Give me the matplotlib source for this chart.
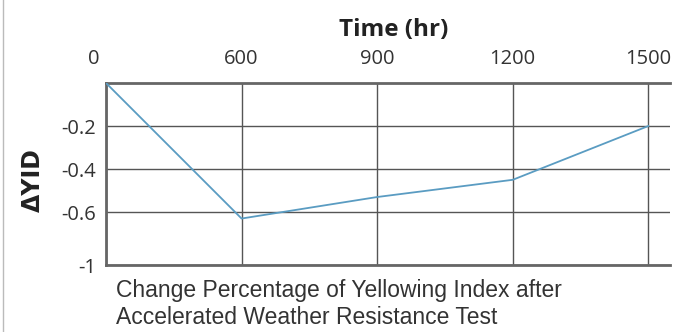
import matplotlib.pyplot as plt
from matplotlib.transforms import ScaledTranslation

# Data
time_labels = ['0', '600', '900', '1200', '1500']
delta_yid = [0.0, -0.63, -0.53, -0.45, -0.2]
ytick_values = [-0.2, -0.4, -0.6, -0.846]
ytick_labels = ['-0.2', '-0.4', '-0.6', '-1']

positions = list(range(len(time_labels)))

fig = plt.figure(figsize=(6.9, 3.32), dpi=100)
ax = fig.add_axes([106 / 690, 1 - 265 / 332, 564 / 690, 182 / 332])

ax.plot(positions, delta_yid, color='#5a9cc2', linewidth=1.3, zorder=3)

ax.set_xlim(0, 4.16)
ax.set_ylim(-0.846, 0)

ax.xaxis.tick_top()
ax.set_xticks(positions)
ax.set_xticklabels(time_labels, fontfamily='Open Sans', fontsize=14.5, color='#333333')
ax.set_yticks(ytick_values)
ax.set_yticklabels(ytick_labels, fontfamily='Open Sans', fontsize=14.5, color='#333333')
ax.tick_params(length=0, pad=7)
ax.tick_params(axis='x', pad=10)

# the "0" label sits left of the corner
first = ax.get_xticklabels()[0]
first.set_transform(first.get_transform() + ScaledTranslation(-12 / 100, 0, fig.dpi_scale_trans))

# gridlines
ax.grid(True, color='#555555', linewidth=1.0)
ax.set_axisbelow(True)

for side in ['top', 'bottom']:
    ax.spines[side].set_color('#666666')
    ax.spines[side].set_linewidth(2)
ax.spines['left'].set_color('#666666')
ax.spines['left'].set_linewidth(2)
ax.spines['right'].set_visible(False)

fig.text(394 / 690, 1 - 30 / 332, 'Time (hr)', ha='center', va='center',
         fontfamily='Open Sans', fontweight='bold', fontsize=17.5, color='#222222')
fig.text(33 / 690, 1 - 180 / 332, 'ΔYID', ha='center', va='center', rotation=90,
         fontfamily='DejaVu Sans', fontweight='bold', fontsize=17, color='#222222')
fig.text(116 / 690, 1 - 290 / 332, 'Change Percentage of Yellowing Index after',
         ha='left', va='center', fontfamily='Liberation Sans', fontsize=16.5, color='#333333')
fig.text(116 / 690, 1 - 318 / 332, 'Accelerated Weather Resistance Test',
         ha='left', va='center', fontfamily='Liberation Sans', fontsize=16.5, color='#333333')

# thin frame line at the left edge of the picture
fig.add_artist(plt.Line2D([3 / 690, 3 / 690], [0, 1], color='#bbbbbb', linewidth=1))

fig.savefig('out.png', dpi=100)
